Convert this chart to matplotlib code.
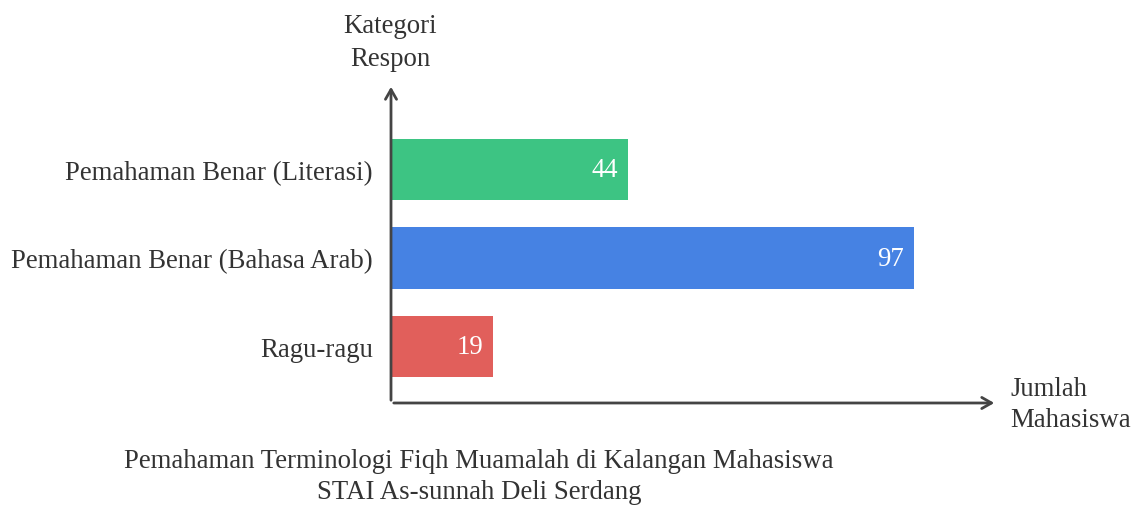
import matplotlib
matplotlib.use("Agg")
import matplotlib.pyplot as plt

# data (bottom to top)
categories = ["Ragu-ragu", "Pemahaman Benar (Bahasa Arab)", "Pemahaman Benar (Literasi)"]
values = [19, 97, 44]
colors = ["#E15F5B", "#4682E3", "#3DC483"]

plt.rcParams["font.family"] = ["Liberation Serif", "DejaVu Serif"]
FS = 19.3
TXT = "#333333"

fig = plt.figure(figsize=(11.33, 5.06), dpi=100)
ax = fig.add_axes([0.3451, 0.2016, 0.5349, 0.6304])

ypos = list(range(len(categories)))
ax.barh(ypos, values, height=0.69, color=colors, edgecolor="none")
for y, v in zip(ypos, values):
    ax.text(v - 1.9, y, str(v), color="white", fontsize=FS,
            ha="right", va="center")

ax.set_xlim(0, 112.4)
ax.set_ylim(-0.638, 2.966)
ax.set_yticks(ypos)
ax.set_yticklabels(categories, fontsize=FS, color=TXT)
ax.tick_params(axis="y", length=0, pad=13)
ax.set_xticks([])
for s in ax.spines.values():
    s.set_visible(False)

# arrow axes
arrow = dict(arrowstyle="->,head_length=0.7,head_width=0.4", color="#444444", lw=2)
ax.annotate("", xy=(0, 1.0), xytext=(0, 0), xycoords="axes fraction", arrowprops=arrow)
ax.annotate("", xy=(1.0, 0), xytext=(0, 0), xycoords="axes fraction", arrowprops=arrow)

fig.text(390 / 1133, 1 - 43 / 506, "Kategori\nRespon", ha="center", va="center",
         fontsize=FS, color=TXT, linespacing=1.42)
fig.text(1010 / 1133, 1 - 405 / 506, "Jumlah\nMahasiswa", ha="left", va="center",
         fontsize=FS, color=TXT, linespacing=1.35)
fig.text(479 / 1133, 1 - 477 / 506,
         "Pemahaman Terminologi Fiqh Muamalah di Kalangan Mahasiswa\nSTAI As-sunnah Deli Serdang",
         ha="center", va="center", fontsize=FS, color=TXT, linespacing=1.3)

fig.savefig("out.png", dpi=100, facecolor="white")
